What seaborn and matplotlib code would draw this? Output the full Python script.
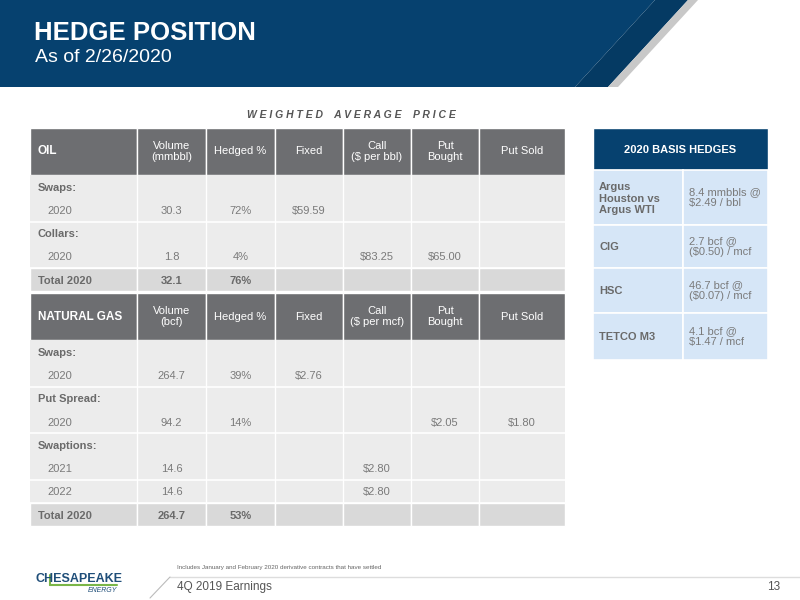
import matplotlib
matplotlib.use("Agg")
import matplotlib.pyplot as plt
import seaborn as sns
from matplotlib.patches import Rectangle, Polygon

sns.set_theme(style="white")
plt.rcParams['font.family'] = ['Liberation Sans', 'DejaVu Sans']

# ---- data ----
oil_cols = ["OIL", "Volume\n(mmbbl)", "Hedged %", "Fixed", "Call\n($ per bbl)", "Put\nBought", "Put Sold"]
oil_rows = [
    ["Swaps:", "", "", "", "", "", ""],
    ["2020", "30.3", "72%", "$59.59", "", "", ""],
    ["Collars:", "", "", "", "", "", ""],
    ["2020", "1.8", "4%", "", "$83.25", "$65.00", ""],
]
oil_total = ["Total 2020", "32.1", "76%", "", "", "", ""]

gas_cols = ["NATURAL GAS", "Volume\n(bcf)", "Hedged %", "Fixed", "Call\n($ per mcf)", "Put\nBought", "Put Sold"]
gas_rows = [
    ["Swaps:", "", "", "", "", "", ""],
    ["2020", "264.7", "39%", "$2.76", "", "", ""],
    ["Put Spread:", "", "", "", "", "", ""],
    ["2020", "94.2", "14%", "", "", "$2.05", "$1.80"],
    ["Swaptions:", "", "", "", "", "", ""],
    ["2021", "14.6", "", "", "$2.80", "", ""],
    ["2022", "14.6", "", "", "$2.80", "", ""],
]
gas_total = ["Total 2020", "264.7", "53%", "", "", "", ""]

basis_title = "2020 BASIS HEDGES"
basis_names = ["Argus\nHouston vs\nArgus WTI", "CIG", "HSC", "TETCO M3"]
basis_values = ["8.4 mmbbls @\n$2.49 / bbl", "2.7 bcf @\n($0.50) / mcf", "46.7 bcf @\n($0.07) / mcf", "4.1 bcf @\n$1.47 / mcf"]

# ---- layout ----
col_x = [30, 137, 206, 275, 343, 411, 479, 565]
HDR = "#6d6e71"
BODY = "#ececec"
TOT = "#d9d9d9"
TXT = "#7a7a7a"
BOLD_TXT = "#6a6a6a"
BLUE = "#06416f"
FS = 8

fig = plt.figure(figsize=(8, 6), dpi=100)
ax = fig.add_axes([0, 0, 1, 1])
ax.set_xlim(0, 800)
ax.set_ylim(600, 0)
ax.axis("off")

# banner
ax.add_patch(Polygon([(0, 0), (655, 0), (575, 87), (0, 87)], color=BLUE, lw=0))
ax.add_patch(Polygon([(655, 0), (688, 0), (608, 87), (575, 87)], color="#053a63", lw=0))
ax.add_patch(Polygon([(688, 0), (698, 0), (618, 87), (608, 87)], color="#c8c8c8", lw=0))
ax.text(34, 33, "HEDGE POSITION", color="white", fontsize=18.5, fontweight="bold", va="center")
ax.text(35, 58, "As of 2/26/2020", color="white", fontsize=14, va="center")

ax.text(351, 115, "W E I G H T E D    A V E R A G E    P R I C E", color="#555555",
        fontsize=7.5, fontstyle="italic", fontweight="bold", ha="center", va="center")


def header(y0, y1, cols):
    for i, c in enumerate(cols):
        ax.add_patch(Rectangle((col_x[i], y0), col_x[i + 1] - col_x[i], y1 - y0,
                               facecolor=HDR, edgecolor="white", lw=1))
        if i == 0:
            ax.text(col_x[0] + 8, (y0 + y1) / 2, c, color="white", fontsize=8.5,
                    fontweight="bold", va="center")
        else:
            ax.text((col_x[i] + col_x[i + 1]) / 2, (y0 + y1) / 2, c, color="white",
                    fontsize=FS, ha="center", va="center", linespacing=1.1)


def body(y0, rows, h):
    y = y0
    for r in rows:
        for i in range(7):
            ax.add_patch(Rectangle((col_x[i], y), col_x[i + 1] - col_x[i], h,
                                   facecolor=BODY, edgecolor="none"))
        is_cat = r[0].endswith(":")
        ax.text(col_x[0] + (8 if is_cat else 17), y + h / 2 + 1, r[0],
                color=BOLD_TXT if is_cat else TXT,
                fontsize=FS, fontweight="bold" if is_cat else "normal", va="center")
        for i in range(1, 7):
            if r[i]:
                ax.text((col_x[i] + col_x[i + 1]) / 2, y + h / 2 + 1, r[i], color=TXT,
                        fontsize=FS, ha="center", va="center")
        y += h
        if not is_cat:
            ax.plot([col_x[0], col_x[-1]], [y, y], color="white", lw=1.2)
    for x in col_x[1:-1]:
        ax.plot([x, x], [y0, y], color="white", lw=1)
    return y


def total(y0, h, r):
    for i in range(7):
        ax.add_patch(Rectangle((col_x[i], y0), col_x[i + 1] - col_x[i], h,
                               facecolor=TOT, edgecolor="white", lw=1))
        if r[i]:
            if i == 0:
                ax.text(col_x[0] + 8, y0 + h / 2 + 1, r[i], color=BOLD_TXT, fontsize=FS,
                        fontweight="bold", va="center")
            else:
                ax.text((col_x[i] + col_x[i + 1]) / 2, y0 + h / 2 + 1, r[i], color=BOLD_TXT,
                        fontsize=FS, fontweight="bold", ha="center", va="center")


header(128, 175, oil_cols)
y = body(175, oil_rows, 23.25)
total(y, 23, oil_total)
header(293, 340, gas_cols)
y = body(340, gas_rows, 23.3)
total(y, 23, gas_total)

# basis hedges table
bx0, bx1, bx2 = 593, 683, 768
ax.add_patch(Rectangle((bx0, 128), bx2 - bx0, 42, facecolor=BLUE, edgecolor="white", lw=1))
ax.text((bx0 + bx2) / 2, 150, basis_title, color="white", fontsize=FS, fontweight="bold",
        ha="center", va="center")
row_y = [170, 225, 268, 313, 360]
for k, (n, v) in enumerate(zip(basis_names, basis_values)):
    y0, y1 = row_y[k], row_y[k + 1]
    ax.add_patch(Rectangle((bx0, y0), bx1 - bx0, y1 - y0, facecolor="#d6e6f7", edgecolor="white", lw=1.2))
    ax.add_patch(Rectangle((bx1, y0), bx2 - bx1, y1 - y0, facecolor="#d6e6f7", edgecolor="white", lw=1.2))
    ax.text(bx0 + 6, (y0 + y1) / 2 + 1, n, color=BOLD_TXT, fontsize=FS, fontweight="bold",
            va="center", linespacing=1.15)
    ax.text(bx1 + 6, (y0 + y1) / 2, v, color=TXT, fontsize=FS, va="center", linespacing=1.15)

# footer
ax.text(177, 568, "Includes January and February 2020 derivative contracts that have settled",
        color="#666666", fontsize=4.5, va="center")
ax.plot([170, 800], [577, 577], color="#dddddd", lw=1)
ax.plot([150, 170], [598, 577], color="#bbbbbb", lw=0.8)
ax.text(177, 587, "4Q 2019 Earnings", color="#555555", fontsize=8.5, va="center")
ax.text(780, 587, "13", color="#555555", fontsize=8.5, ha="right", va="center")
ax.text(36, 579, "CHESAPEAKE", color="#1f4e79", fontsize=9, fontweight="bold", va="center")
ax.plot([50, 117], [585, 585], color="#7ab648", lw=1.5)
ax.plot([50, 50], [575, 585], color="#7ab648", lw=1.5)
ax.text(117, 590, "ENERGY", color="#1f4e79", fontsize=5, fontstyle="italic", ha="right", va="center")

fig.savefig("out.png", dpi=100)
